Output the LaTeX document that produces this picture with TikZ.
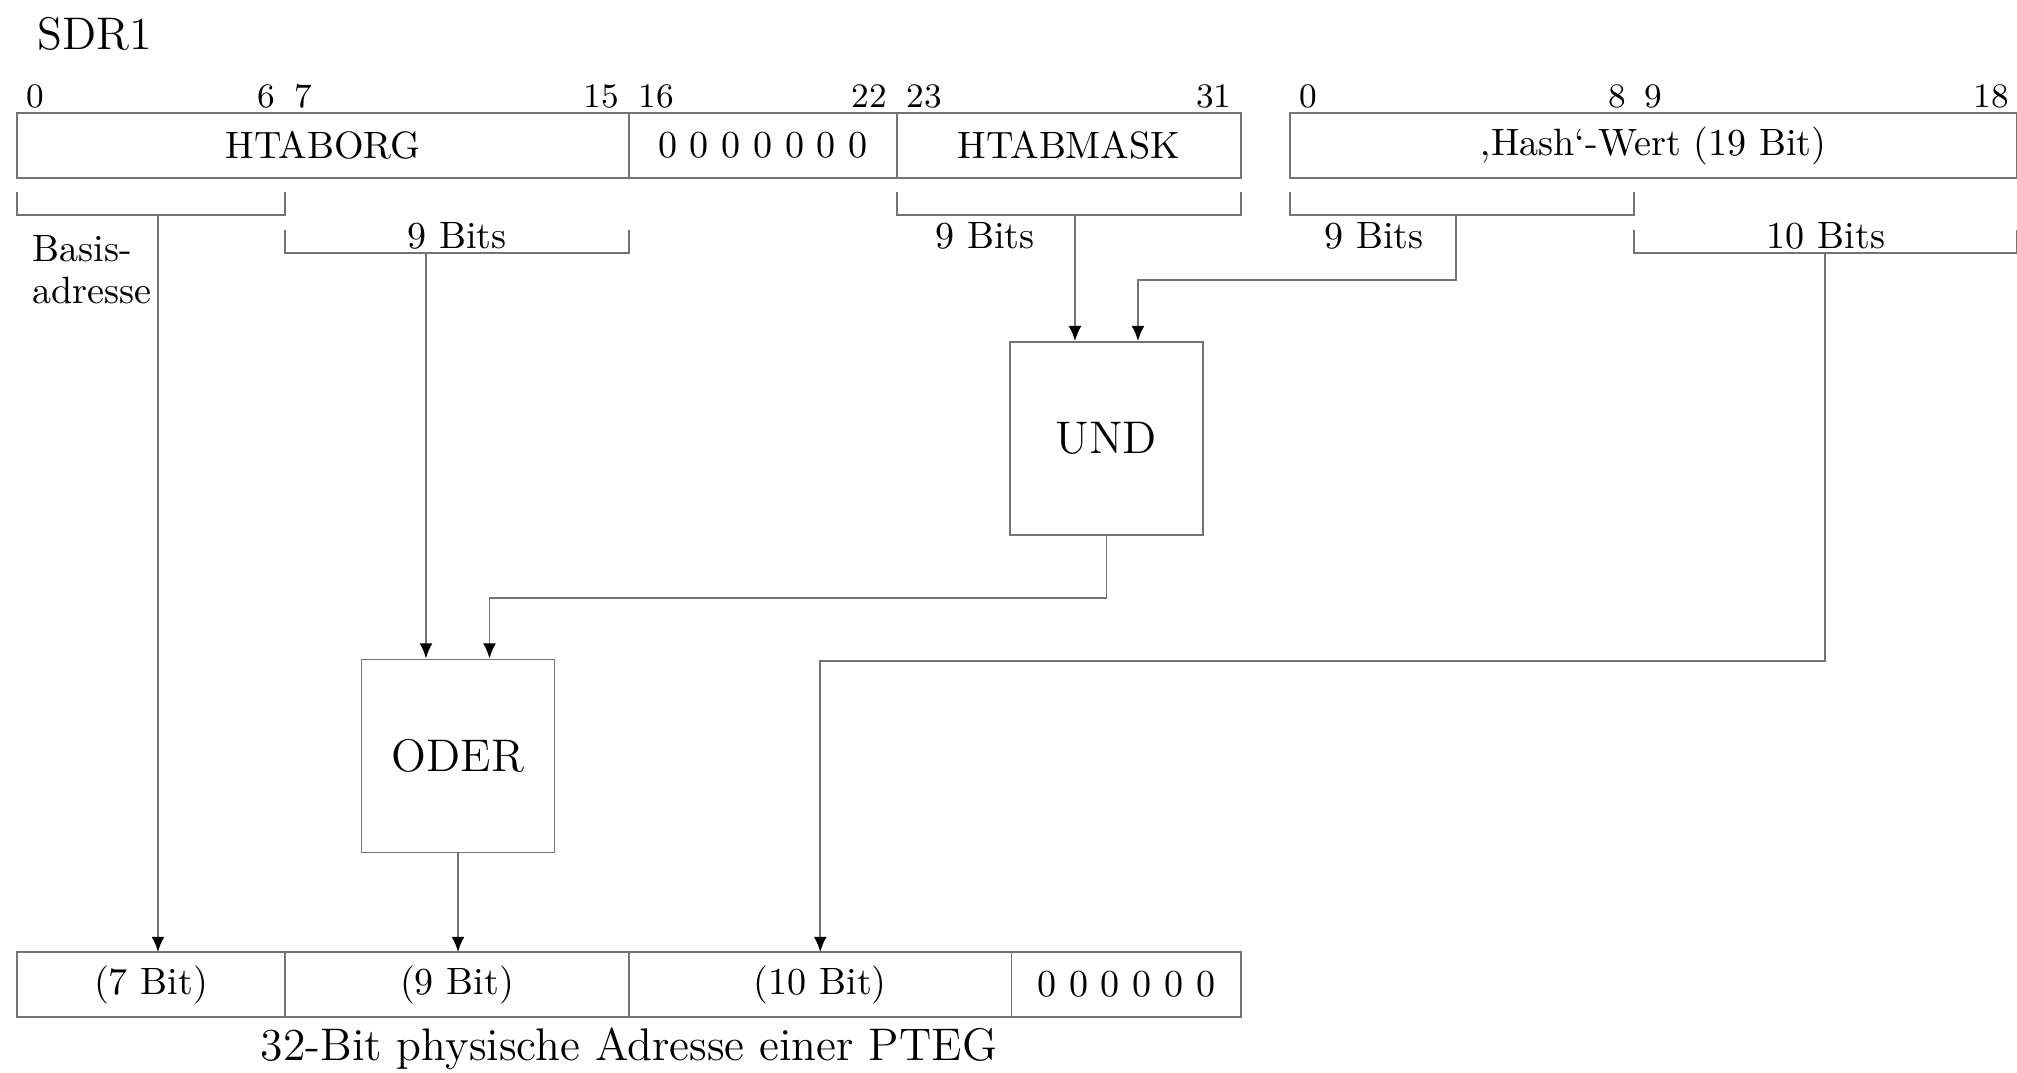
\documentclass[tikz,border=0pt]{standalone}
\usepackage{fontspec}
\usetikzlibrary{arrows.meta}
\newcommand\unitpx{0.2625pt}
\colorlet{linecol}{black!55}
\tikzset{
  field/.style={draw=linecol, line width=0.5pt, inner sep=0pt, outer sep=0pt,
    anchor=north west, minimum height=65*\unitpx, minimum width=#1*\unitpx},
  bitno/.style={font=\small, inner sep=0pt},
  lbl/.style={inner sep=0pt, anchor=base},
  gate/.style={draw=linecol, line width=0.5pt, minimum size=193*\unitpx, font=\large},
  brace/.style={draw=linecol, line width=0.5pt},
  conn/.style={draw=linecol, line width=0.5pt, -{Latex[length=4pt,width=3.4pt,color=black]}},
}
\begin{document}
\begin{tikzpicture}[x=\unitpx, y=-\unitpx]
    \useasboundingbox (0,0) rectangle (2017,1072);

    % Register SDR1 und Hash-Wert
    \node[lbl, anchor=base west, font=\large] (sdr) at (37,49) {SDR1};
    \node[field=612] (htaborg) at (17,113) {HTABORG};
    \node[field=267.75] (nullen) at (629,113) {0 0 0 0 0 0 0};
    \node[field=344.25] (htabmask) at (896.75,113) {HTABMASK};
    \node[field=726.75] (hash) at (1290,113) {‚Hash‘-Wert (19 Bit)};

    % Bitnummern
    \foreach \b/\x in {0/17,7/284.75,16/629,23/896.75}
        \node[bitno, anchor=base west] (s\b) at (\x+9,107) {\b};
    \foreach \b/\x in {6/284.75,15/629,22/896.75,31/1241}
        \node[bitno, anchor=base east] (s\b) at (\x-9,107) {\b};
    \foreach \b/\x in {0/1290,9/1634.25}
        \node[bitno, anchor=base west] (h\b) at (\x+9,107) {\b};
    \foreach \b/\x in {8/1634.25,18/2016.75}
        \node[bitno, anchor=base east] (h\b) at (\x-7,107) {\b};

    % Klammern
    \draw[brace] (17,192) |- (285,215) -- (285,192);
    \draw[brace] (285,230) |- (629,253) -- (629,230);
    \draw[brace] (897,192) |- (1241,215) -- (1241,192);
    \draw[brace] (1290,192) |- (1634,215) -- (1634,192);
    \draw[brace] (1634,230) |- (2016.75,253) -- (2016.75,230);
    \coordinate (bas) at (158,215);
    \coordinate (org9) at (426,253);
    \coordinate (mask9) at (1075,215);
    \coordinate (hash9) at (1456,215);
    \coordinate (hash10) at (1825,253);

    \node[inner sep=0pt, anchor=west, align=left, font=\fontsize{10}{11}\selectfont] (basis) at (32,270) {Basis-\\adresse};
    \node[lbl] (org9l) at (457,248) {9 Bits};
    \node[lbl] (mask9l) at (985,248) {9 Bits};
    \node[lbl] (hash9l) at (1374,248) {9 Bits};
    \node[lbl] (hash10l) at (1826,248) {10 Bits};

    % Verknuepfungen
    \node[gate] (und) at (1106.5,438.5) {UND};
    \node[gate] (oder) at (458,756) {ODER};

    % physische Adresse
    \node[field=268] (b7) at (17,952) {(7 Bit)};
    \node[field=344] (b9) at (285,952) {(9 Bit)};
    \node[field=382.5] (b10) at (629,952) {(10 Bit)};
    \node[field=229.5] (b0) at (1011.5,952) {0 0 0 0 0 0};
    \node[lbl, font=\large] (titel) at (629,1060) {32-Bit physische Adresse einer PTEG};

    % Leitungen
    \draw[conn] (bas) -- (bas |- b7.north);
    \draw[conn] (org9) -- (org9 |- oder.north);
    \draw[conn] (mask9) -- (mask9 |- und.north);
    \draw[conn] (hash9) -- ++(0,65) -| ([xshift=31.5*\unitpx]und.north);
    \draw[conn] (und.south) -- ++(0,62) -| ([xshift=31.5*\unitpx]oder.north);
    \draw[conn] (oder.south) -- (b9.north -| oder.south);
    \draw[conn] (hash10) -- ++(0,408) -| (b10.north);
\end{tikzpicture}
\end{document}
